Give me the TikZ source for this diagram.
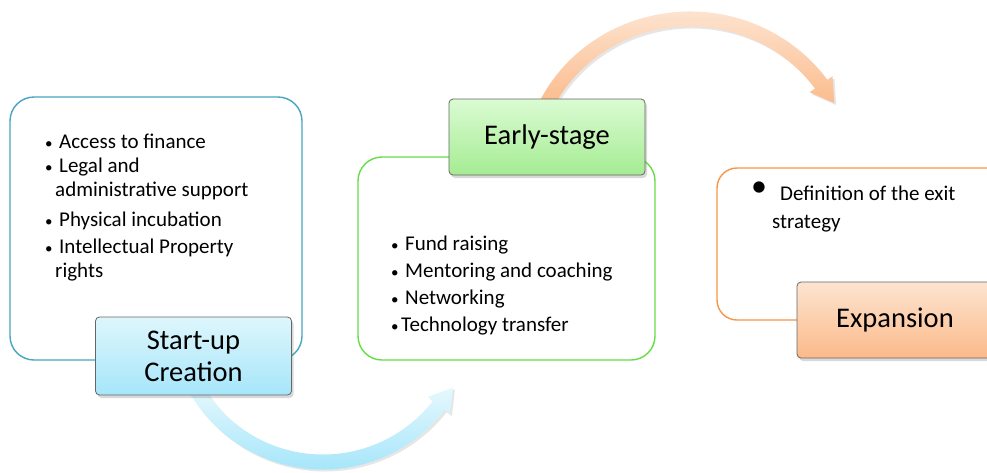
\documentclass[tikz,border=0pt]{standalone}
\usepackage{fontspec}
\setmainfont{Carlito}
\usepackage{tikz}
\usetikzlibrary{calc,positioning,shadows}

\definecolor{startline}{RGB}{70,165,195}
\definecolor{earlyline}{RGB}{102,221,72}
\definecolor{expline}{RGB}{247,150,70}
\definecolor{starttop}{RGB}{222,246,252}
\definecolor{startbot}{RGB}{166,230,250}
\definecolor{earlytop}{RGB}{218,251,211}
\definecolor{earlybot}{RGB}{165,236,146}
\definecolor{exptop}{RGB}{253,228,208}
\definecolor{expbot}{RGB}{251,186,138}

\newcommand{\itm}[2][14pt]{\makebox[#1][l]{\fontsize{15}{15}\selectfont\textbullet}#2}

\begin{document}
\begin{tikzpicture}
  [x=1pt, y=-1pt,
    Frame/.style={rectangle, rounded corners=24pt, draw, line width=1.4pt, fill=white},
    Stage/.style={rectangle, rounded corners=4pt, draw=black!60, line width=0.8pt,
      minimum width=196pt, align=center, font=\fontsize{28.5}{32}\selectfont,
      drop shadow={opacity=0.3, shadow xshift=2pt, shadow yshift=-3pt}},
    List/.style={anchor=north west, align=left, inner sep=0pt, font=\fontsize{21}{24}\selectfont}
  ]
  \useasboundingbox (0,0) rectangle (987,472);
  \clip (0,0) rectangle (987,472);
  % Arrows
  \coordinate (bc) at (323,315);
  \coordinate (oc) at (690,172);
  \shade[top color=starttop!70!white, bottom color=startbot,
      drop shadow={opacity=0.2, shadow xshift=2pt, shadow yshift=-2pt}]
    ($(bc)+(150:154.5)$) arc[start angle=150, end angle=38, radius=154.5]
    -- ($(bc)+(38:161)$) -- ($(bc)+(38:147)+(-52:23)$) -- ($(bc)+(38:133)$)
    -- ($(bc)+(38:139.5)$) arc[start angle=38, end angle=150, radius=139.5] -- cycle;
  \shade[top color=exptop!70!white, bottom color=expbot,
      drop shadow={opacity=0.2, shadow xshift=2pt, shadow yshift=-2pt}]
    ($(oc)+(206:167.5 and 160.5)$) arc[start angle=206, end angle=325, x radius=167.5, y radius=160.5]
    -- ($(oc)+(325:174 and 167)$) -- ($(oc)+(325:160 and 153)+(55:23)$) -- ($(oc)+(325:146 and 139)$)
    -- ($(oc)+(325:152.5 and 145.5)$) arc[start angle=325, end angle=206, x radius=152.5, y radius=145.5] -- cycle;
  % Frames
  \node[Frame, draw=startline, minimum width=292pt, minimum height=263pt] (startbox) at (156,228.5) {};
  \node[Frame, draw=earlyline, minimum width=297pt, minimum height=203pt] (earlybox) at (506.5,258.5) {};
  \node[Frame, draw=expline, rounded corners=20pt, minimum width=300pt, minimum height=152pt] (expbox) at (867,244) {};
  % Lists
  \node[List] (startlist) at (45,134) {\itm{Access to finance}\\
    \itm{Legal and}\\
    \hspace*{10pt}administrative support\\[6pt]
    \itm{Physical incubation}\\[3pt]
    \itm{Intellectual Property}\\
    \hspace*{10pt}rights};
  \node[List, font=\fontsize{21}{27}\selectfont] (earlylist) at (391,236) {\itm{Fund raising}\\
    \itm{Mentoring and coaching}\\
    \itm{Networking}\\
    \itm[10pt]{Technology transfer}};
  \node[List, font=\fontsize{21}{28}\selectfont] (explist) at (751,186)
    {\smash{\raisebox{4pt}{\fontsize{32}{32}\selectfont\textbullet}}\hspace{13pt}Definition of the exit\\
    \hspace*{21pt}strategy};
  % Stages
  \node[Stage, top color=starttop, bottom color=startbot, minimum height=78pt] (startlabel) at (193.5,356) {Start-up\\Creation};
  \node[Stage, top color=earlytop, bottom color=earlybot, minimum height=76pt] (earlylabel) at (547,137) {Early-stage};
  \node[Stage, top color=exptop, bottom color=expbot, minimum height=76pt] (explabel) at (895,320) {Expansion};
\end{tikzpicture}
\end{document}
